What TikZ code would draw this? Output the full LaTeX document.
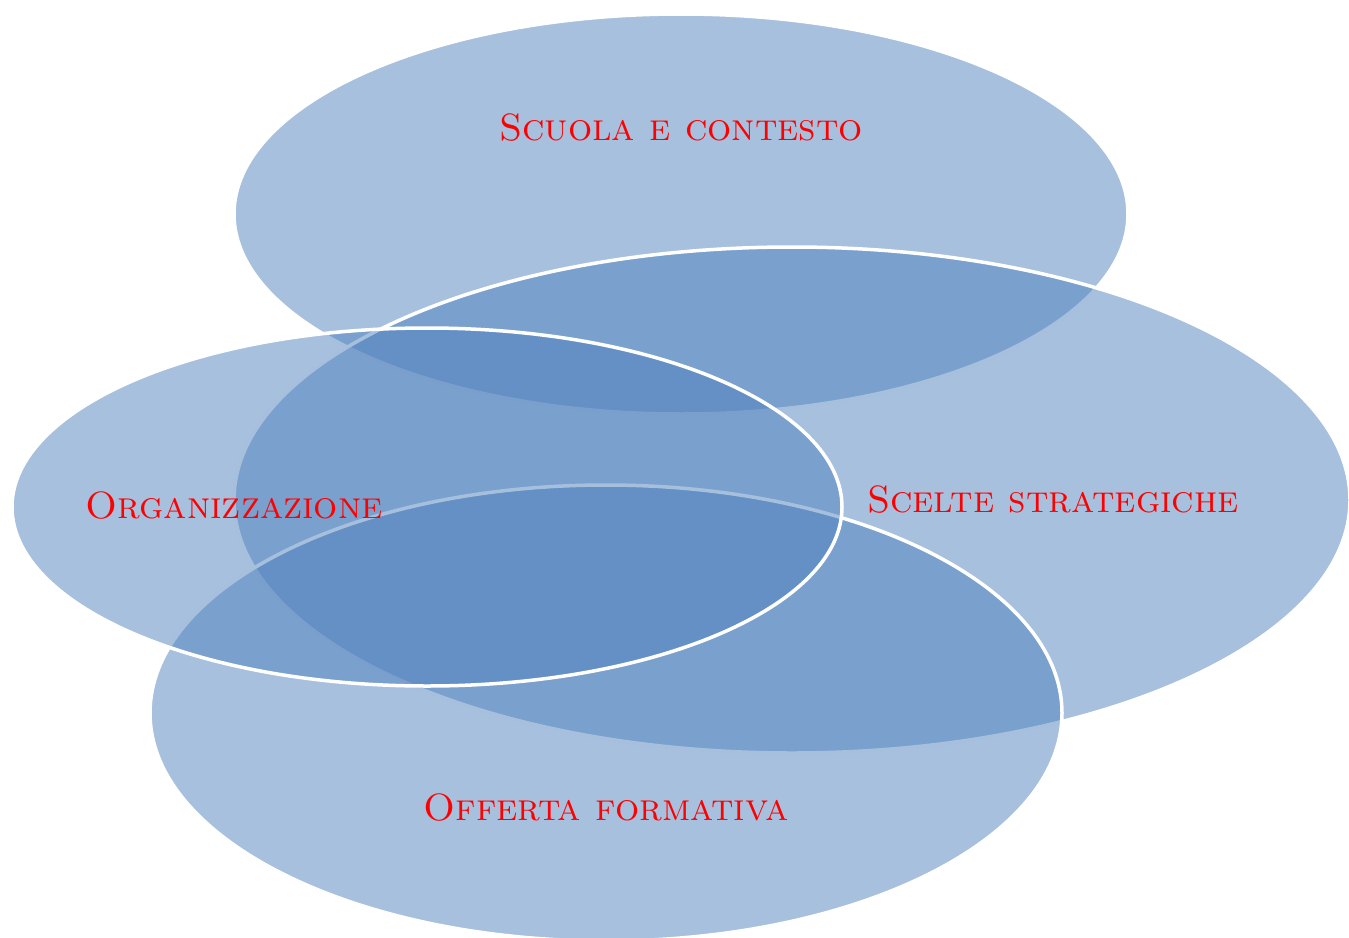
\documentclass[tikz,border=0pt]{standalone}
\definecolor{ellblue}{HTML}{4F81BD}
\tikzset{
  ell/.style={fill=ellblue, fill opacity=0.5, draw=white, line width=3.5pt},
  lab/.style={text=red, font=\fontsize{38}{44}\selectfont\scshape, inner sep=0pt}
}
\begin{document}
\begin{tikzpicture}[x=1pt,y=-1pt]
\useasboundingbox (0,0) rectangle (1349,937);
\begin{scope}
\clip (0,0) rectangle (1349,937);
\path[ell] (681,214) ellipse [x radius=447, y radius=200];
\path[ell] (792,500) ellipse [x radius=558, y radius=253];
\path[ell] (606,713) ellipse [x radius=456, y radius=228];
\path[ell] (427,507) ellipse [x radius=415, y radius=179];
\end{scope}
\node[lab] (scuola) at (681,128) {Scuola e contesto};
\node[lab] (scelte) at (1053,500) {Scelte strategiche};
\node[lab] (org) at (234,506) {Organizzazione};
\node[lab] (offerta) at (606,808) {Offerta formativa};
\end{tikzpicture}
\end{document}
